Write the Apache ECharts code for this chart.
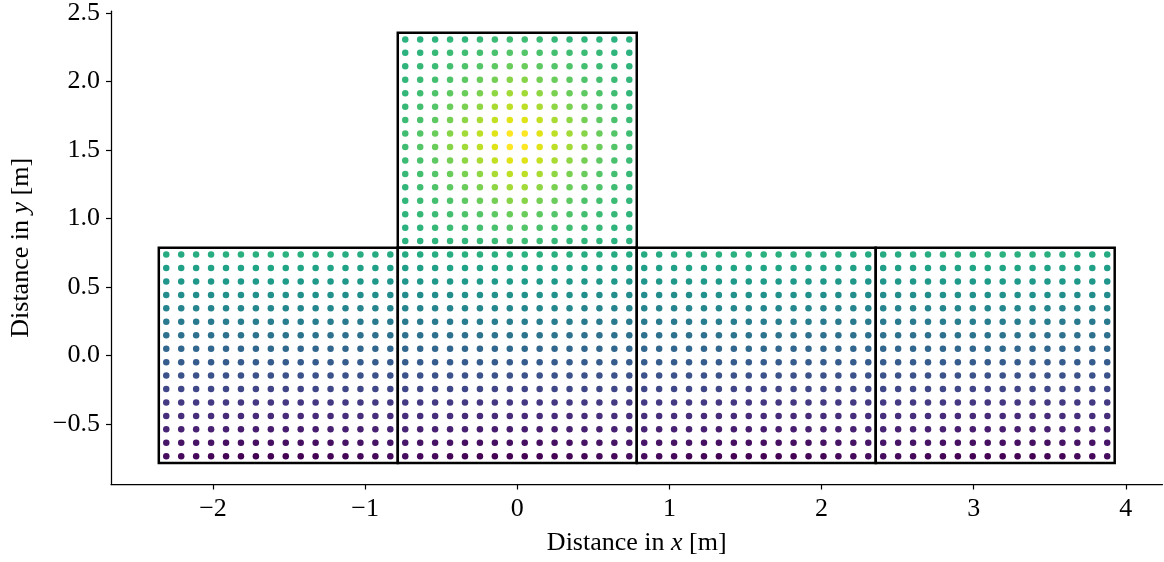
<!DOCTYPE html>
<html>
<head>
<meta charset="utf-8">
<script src="https://cdn.jsdelivr.net/npm/echarts@6/dist/echarts.min.js"></script>
<style>html,body{margin:0;padding:0;background:#fff;}#chart{width:1164px;height:562px;}</style>
</head>
<body>
<div id="chart"></div>
<script>
// ---- data ----
const xTicks = [-2, -1, 0, 1, 2, 3, 4];
const yTicks = [-0.5, 0, 0.5, 1, 1.5, 2, 2.5];
const xRange = [-2.6704, 4.2412];
const yRange = [-0.9425, 2.5133];
// squares (lower-left corners) and side length, dots per side
const squareX0 = [-2.3562, -0.7854, 0.7854, 2.3562, -0.7854];
const squareY0 = [-0.7854, -0.7854, -0.7854, -0.7854, 0.7854];
const squareSide = 1.5708;
const dotsPerSide = 16;
// colour values (0..1, viridis), row 0 = bottom row, column 0 = left
const bottomValues = [
  [0.03,0.02,0.02,0.01,0.01,0.00,0.00,0.00,0.00,0.00,0.00,0.01,0.01,0.02,0.02,0.03],
  [0.06,0.05,0.05,0.05,0.04,0.04,0.04,0.04,0.04,0.04,0.04,0.04,0.05,0.05,0.05,0.06],
  [0.10,0.09,0.09,0.09,0.09,0.08,0.08,0.08,0.08,0.08,0.08,0.09,0.09,0.09,0.09,0.10],
  [0.13,0.13,0.13,0.13,0.12,0.12,0.12,0.12,0.12,0.12,0.12,0.12,0.13,0.13,0.13,0.13],
  [0.17,0.17,0.17,0.17,0.17,0.16,0.16,0.16,0.16,0.16,0.16,0.17,0.17,0.17,0.17,0.17],
  [0.21,0.21,0.21,0.21,0.21,0.21,0.20,0.20,0.20,0.20,0.21,0.21,0.21,0.21,0.21,0.21],
  [0.25,0.25,0.25,0.25,0.25,0.25,0.25,0.25,0.25,0.25,0.25,0.25,0.25,0.25,0.25,0.25],
  [0.29,0.29,0.29,0.29,0.29,0.29,0.29,0.29,0.29,0.29,0.29,0.29,0.29,0.29,0.29,0.29],
  [0.33,0.33,0.33,0.33,0.33,0.33,0.33,0.34,0.34,0.33,0.33,0.33,0.33,0.33,0.33,0.33],
  [0.37,0.37,0.37,0.37,0.37,0.38,0.38,0.38,0.38,0.38,0.38,0.37,0.37,0.37,0.37,0.37],
  [0.41,0.41,0.41,0.41,0.42,0.42,0.42,0.42,0.42,0.42,0.42,0.42,0.41,0.41,0.41,0.41],
  [0.45,0.45,0.45,0.45,0.46,0.46,0.46,0.46,0.46,0.46,0.46,0.46,0.45,0.45,0.45,0.45],
  [0.48,0.49,0.49,0.49,0.50,0.50,0.50,0.50,0.50,0.50,0.50,0.50,0.49,0.49,0.49,0.48],
  [0.52,0.53,0.53,0.53,0.54,0.54,0.54,0.55,0.55,0.54,0.54,0.54,0.53,0.53,0.53,0.52],
  [0.56,0.57,0.57,0.58,0.58,0.58,0.59,0.59,0.59,0.59,0.58,0.58,0.58,0.57,0.57,0.56],
  [0.61,0.61,0.62,0.62,0.63,0.63,0.63,0.64,0.64,0.63,0.63,0.63,0.62,0.62,0.61,0.61]
];
const topValues = [
  [0.64,0.64,0.65,0.66,0.66,0.67,0.68,0.69,0.69,0.68,0.67,0.66,0.66,0.65,0.64,0.64],
  [0.64,0.65,0.67,0.68,0.69,0.70,0.71,0.73,0.73,0.71,0.70,0.69,0.68,0.67,0.65,0.64],
  [0.65,0.67,0.68,0.70,0.72,0.73,0.75,0.77,0.77,0.75,0.73,0.72,0.70,0.68,0.67,0.65],
  [0.66,0.68,0.70,0.72,0.75,0.77,0.79,0.82,0.82,0.79,0.77,0.75,0.72,0.70,0.68,0.66],
  [0.66,0.69,0.72,0.75,0.77,0.80,0.83,0.86,0.86,0.83,0.80,0.77,0.75,0.72,0.69,0.66],
  [0.67,0.70,0.73,0.77,0.80,0.83,0.87,0.90,0.90,0.87,0.83,0.80,0.77,0.73,0.70,0.67],
  [0.68,0.71,0.75,0.79,0.83,0.87,0.91,0.95,0.95,0.91,0.87,0.83,0.79,0.75,0.71,0.68],
  [0.69,0.73,0.77,0.82,0.86,0.90,0.95,1.00,1.00,0.95,0.90,0.86,0.82,0.77,0.73,0.69],
  [0.69,0.73,0.77,0.82,0.86,0.90,0.95,1.00,1.00,0.95,0.90,0.86,0.82,0.77,0.73,0.69],
  [0.68,0.71,0.75,0.79,0.83,0.87,0.91,0.95,0.95,0.91,0.87,0.83,0.79,0.75,0.71,0.68],
  [0.67,0.70,0.73,0.77,0.80,0.83,0.87,0.90,0.90,0.87,0.83,0.80,0.77,0.73,0.70,0.67],
  [0.66,0.69,0.72,0.75,0.77,0.80,0.83,0.86,0.86,0.83,0.80,0.77,0.75,0.72,0.69,0.66],
  [0.66,0.68,0.70,0.72,0.75,0.77,0.79,0.82,0.82,0.79,0.77,0.75,0.72,0.70,0.68,0.66],
  [0.65,0.67,0.68,0.70,0.72,0.73,0.75,0.77,0.77,0.75,0.73,0.72,0.70,0.68,0.67,0.65],
  [0.64,0.65,0.67,0.68,0.69,0.70,0.71,0.73,0.73,0.71,0.70,0.69,0.68,0.67,0.65,0.64],
  [0.64,0.64,0.65,0.66,0.66,0.67,0.68,0.69,0.69,0.68,0.67,0.66,0.66,0.65,0.64,0.64]
];
const squareValues = [bottomValues, bottomValues, bottomValues, bottomValues, topValues];
const viridis = ['#440154','#471365','#482475','#463480','#414487','#3b528b','#355f8d','#2f6c8e',
  '#2a788e','#25848e','#21918c','#1e9c89','#22a884','#2fb47c','#44bf70','#5ec962','#7ad151',
  '#9bd93c','#bddf26','#dfe318','#fde725'];

// ---- build ----
const points = [];
const squares = [];
for (let s = 0; s < squareX0.length; s++) {
  const step = squareSide / dotsPerSide;
  for (let r = 0; r < dotsPerSide; r++) {
    for (let c = 0; c < dotsPerSide; c++) {
      points.push([squareX0[s] + (c + 0.5) * step, squareY0[s] + (r + 0.5) * step, squareValues[s][r][c]]);
    }
  }
  squares.push([squareX0[s], squareY0[s], squareX0[s] + squareSide, squareY0[s] + squareSide]);
}

const FONT = 'Liberation Serif';
const fmt = v => {
  const s = Math.abs(v).toFixed(1);
  return (v < 0 ? '\u2212' : '') + s;
};
const fmtX = v => (v < 0 ? '\u2212' : '') + Math.abs(v).toFixed(0);

const chart = echarts.init(document.getElementById('chart'), null, {renderer: 'canvas'});
chart.setOption({
  animation: false,
  backgroundColor: '#ffffff',
  grid: {left: 110, right: 1.5, top: 10.5, bottom: 77.5, containLabel: false},
  xAxis: {
    type: 'value', min: xRange[0], max: xRange[1],
    splitLine: {show: false},
    axisLine: {show: true, onZero: false, lineStyle: {color: '#000', width: 1.25}},
    axisTick: {show: true, inside: false, length: 5, lineStyle: {color: '#000', width: 1.2}, customValues: xTicks},
    axisLabel: {customValues: xTicks, formatter: fmtX, color: '#000', fontFamily: FONT, fontSize: 26, margin: 12},
    name: 'Distance in {i|x} [m]', nameLocation: 'middle', nameGap: 46,
    nameTextStyle: {color: '#000', fontFamily: FONT, fontSize: 26,
      rich: {i: {fontStyle: 'italic', fontFamily: FONT, fontSize: 26, color: '#000'}}}
  },
  yAxis: {
    type: 'value', min: yRange[0], max: yRange[1],
    splitLine: {show: false},
    axisLine: {show: true, onZero: false, lineStyle: {color: '#000', width: 1.25}},
    axisTick: {show: true, inside: false, length: 5, lineStyle: {color: '#000', width: 1.2}, customValues: yTicks},
    axisLabel: {customValues: yTicks, formatter: fmt, color: '#000', fontFamily: FONT, fontSize: 26, margin: 11},
    name: 'Distance in {i|y} [m]', nameLocation: 'middle', nameGap: 77, nameRotate: 90,
    nameTextStyle: {color: '#000', fontFamily: FONT, fontSize: 26,
      rich: {i: {fontStyle: 'italic', fontFamily: FONT, fontSize: 26, color: '#000'}}}
  },
  visualMap: {
    show: false, type: 'continuous', min: 0, max: 1, dimension: 2, seriesIndex: 0,
    inRange: {color: viridis}
  },
  series: [
    {
      type: 'scatter', data: points, symbol: 'circle', symbolSize: 6.5,
      itemStyle: {opacity: 1}, z: 2, silent: true
    },
    {
      type: 'custom', data: squares, z: 3, silent: true,
      renderItem: function (params, api) {
        const p0 = api.coord([api.value(0), api.value(1)]);
        const p1 = api.coord([api.value(2), api.value(3)]);
        return {
          type: 'rect',
          shape: {x: p0[0], y: p1[1], width: p1[0] - p0[0], height: p0[1] - p1[1]},
          style: {fill: 'none', stroke: '#000', lineWidth: 2.5}
        };
      }
    }
  ]
});
</script>
</body>
</html>
